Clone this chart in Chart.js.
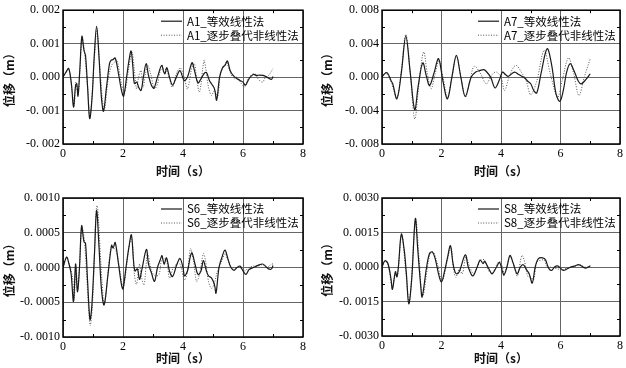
<!DOCTYPE html>
<html>
<head>
<meta charset="utf-8">
<script src="https://cdn.jsdelivr.net/npm/chart.js@4.4.1/dist/chart.umd.min.js"></script>
<style>
  body { margin: 0; background: #fff; width: 626px; height: 368px; overflow: hidden; position: relative; }
  canvas { position: absolute; }
</style>
</head>
<body>
<canvas id="pA1" width="313" height="184" style="left:0;top:0"></canvas>
<canvas id="pA7" width="313" height="184" style="left:313px;top:0"></canvas>
<canvas id="pS6" width="313" height="184" style="left:0;top:184px"></canvas>
<canvas id="pS8" width="313" height="184" style="left:313px;top:184px"></canvas>
<script>
// displacement values in mm (converted to m when the datasets are built)
const a1Equivalent = [[0,0],[0.1,0.15],[0.19,0.26],[0.28,-0.2],[0.35,-0.9],[0.42,-0.25],[0.46,-0.2],[0.5,-0.57],[0.56,0.2],[0.63,1.22],[0.7,0.8],[0.75,0.65],[0.82,-0.3],[0.89,-1.24],[0.97,-0.6],[1.04,0.6],[1.12,1.52],[1.2,0.6],[1.28,-0.6],[1.35,-1.02],[1.45,-0.3],[1.55,0.4],[1.6,0.5],[1.66,0.52],[1.74,0.57],[1.85,0.1],[1.95,-0.4],[2.02,-0.57],[2.12,0.0],[2.2,0.5],[2.27,0.78],[2.33,0.3],[2.38,-0.19],[2.46,-0.15],[2.52,-0.3],[2.6,-0.4],[2.68,0.0],[2.77,0.4],[2.85,0.05],[2.95,-0.25],[3.03,-0.33],[3.15,0.0],[3.29,0.35],[3.36,0.15],[3.4,0.1],[3.46,0.28],[3.55,0.0],[3.65,-0.24],[3.78,0.0],[3.9,0.19],[4.04,-0.1],[4.15,0.0],[4.3,0.43],[4.38,0.2],[4.5,-0.17],[4.6,-0.05],[4.7,0.1],[4.78,0.14],[4.88,-0.1],[4.95,-0.2],[5.05,-0.35],[5.12,-0.69],[5.22,0.0],[5.32,0.29],[5.4,0.35],[5.48,0.48],[5.57,0.2],[5.67,0.05],[5.8,-0.05],[5.9,-0.1],[6.0,-0.15],[6.08,-0.24],[6.2,-0.05],[6.34,0.08],[6.45,0.05],[6.55,0.06],[6.67,0.05],[6.8,0.0],[6.95,-0.07],[7.0,0.02]];
const a1StepIter = [[0,0],[0.1,0.15],[0.19,0.25],[0.3,-0.4],[0.37,-0.85],[0.43,-0.15],[0.5,-0.55],[0.56,0.2],[0.64,1.18],[0.72,0.7],[0.82,-0.3],[0.9,-1.2],[1.05,0.6],[1.13,1.45],[1.22,0.4],[1.37,-1.0],[1.5,-0.1],[1.62,0.35],[1.72,0.45],[1.8,0.5],[1.95,-0.2],[2.05,-0.45],[2.2,0.3],[2.3,0.75],[2.38,0.2],[2.45,-0.35],[2.52,0.0],[2.6,0.2],[2.67,-0.3],[2.75,0.1],[2.82,0.35],[2.92,0.1],[3.05,-0.35],[3.15,-0.2],[3.25,0.2],[3.35,0.25],[3.45,0.2],[3.55,-0.05],[3.65,-0.3],[3.8,0.15],[3.92,0.27],[4.05,-0.05],[4.15,-0.35],[4.3,0.3],[4.38,0.4],[4.45,0.0],[4.55,-0.45],[4.7,0.5],[4.75,0.3],[4.85,-0.3],[4.95,-0.55],[5.05,-0.4],[5.15,-0.6],[5.25,0.1],[5.35,0.3],[5.45,0.45],[5.55,0.2],[5.7,-0.05],[5.8,0.0],[5.95,-0.2],[6.05,-0.3],[6.15,-0.1],[6.25,0.05],[6.4,0.1],[6.5,-0.05],[6.65,-0.15],[6.75,0.0],[6.85,0.05],[7.0,0.25]];

const a7Equivalent = [[0,0],[0.12,0.5],[0.2,0.4],[0.3,-0.4],[0.36,-0.8],[0.5,-2.6],[0.65,0.5],[0.8,4.9],[0.95,0.5],[1.1,-3.9],[1.22,-1.0],[1.37,1.7],[1.5,0.0],[1.6,-1.0],[1.75,0.5],[1.9,2.2],[2.05,-0.5],[2.2,-2.6],[2.35,0.0],[2.5,2.6],[2.65,0.0],[2.8,-2.3],[3.0,0.0],[3.15,0.6],[3.3,0.8],[3.42,0.9],[3.5,0.7],[3.65,0.0],[3.8,-1.3],[3.95,-0.3],[4.05,0.6],[4.15,0.3],[4.25,0.1],[4.45,0.6],[4.6,0.3],[4.8,-0.1],[4.9,-0.5],[5.0,-0.8],[5.1,-1.6],[5.2,-1.9],[5.35,0.5],[5.55,3.4],[5.7,1.5],[5.85,-2.0],[5.98,-2.9],[6.1,-1.5],[6.2,0.5],[6.32,1.6],[6.45,0.8],[6.6,-0.5],[6.7,-0.8],[6.85,-0.3],[7.0,0.4]];
const a7StepIter = [[0,0],[0.12,0.5],[0.3,-0.5],[0.5,-2.5],[0.65,0.8],[0.8,5.1],[0.95,0.5],[1.1,-5.0],[1.25,-0.5],[1.4,3.0],[1.52,0.5],[1.65,-1.4],[1.78,0.3],[1.92,2.0],[2.05,0.0],[2.2,-2.4],[2.35,0.0],[2.5,2.5],[2.65,0.0],[2.8,-2.4],[2.95,-0.5],[3.1,1.3],[3.3,0.5],[3.5,-0.8],[3.65,0.0],[3.75,0.5],[3.85,0.6],[4.0,0.0],[4.12,-1.6],[4.3,0.3],[4.5,1.4],[4.7,0.5],[4.85,-0.5],[5.0,-2.1],[5.2,-0.5],[5.45,3.2],[5.65,0.5],[5.9,-2.4],[6.05,-0.5],[6.27,2.3],[6.45,0.3],[6.62,-2.2],[6.8,0.0],[7.0,2.2]];

const s6Equivalent = [[0,0],[0.12,0.15],[0.2,0.05],[0.27,-0.09],[0.35,-0.49],[0.42,0.05],[0.48,-0.35],[0.55,0.0],[0.62,0.6],[0.7,0.37],[0.75,0.35],[0.82,-0.2],[0.9,-0.75],[0.96,-0.56],[1.05,0.2],[1.12,0.82],[1.2,0.3],[1.28,-0.3],[1.37,-0.54],[1.5,-0.1],[1.62,0.32],[1.67,0.28],[1.74,0.36],[1.85,0.05],[1.95,-0.25],[2.0,-0.31],[2.1,0.0],[2.2,0.3],[2.28,0.47],[2.35,0.1],[2.4,-0.05],[2.48,-0.02],[2.55,-0.17],[2.62,-0.05],[2.78,0.26],[2.85,0.05],[2.95,-0.08],[3.05,-0.2],[3.15,0.0],[3.25,0.12],[3.3,0.17],[3.37,0.05],[3.45,0.14],[3.55,-0.05],[3.65,-0.13],[3.8,0.05],[3.9,0.13],[4.0,0.0],[4.05,-0.12],[4.15,-0.05],[4.25,0.17],[4.3,0.21],[4.4,0.05],[4.5,-0.1],[4.6,-0.05],[4.68,0.1],[4.78,-0.05],[4.85,-0.12],[4.95,-0.15],[5.05,-0.25],[5.1,-0.37],[5.2,0.0],[5.3,0.15],[5.4,0.25],[5.5,0.12],[5.6,0.0],[5.7,-0.04],[5.8,0.0],[5.9,0.02],[6.0,-0.05],[6.1,-0.1],[6.2,-0.03],[6.35,0.0],[6.5,0.03],[6.65,0.05],[6.75,0.02],[6.85,-0.02],[6.95,-0.02],[7.0,0.03]];
const s6StepIter = [[0,0],[0.12,0.13],[0.3,-0.1],[0.37,-0.47],[0.43,0.0],[0.5,-0.3],[0.63,0.58],[0.72,0.35],[0.9,-0.83],[0.98,-0.55],[1.13,0.89],[1.3,-0.2],[1.38,-0.53],[1.6,0.3],[1.7,0.28],[1.8,0.2],[1.95,-0.2],[2.02,-0.28],[2.22,0.35],[2.3,0.4],[2.38,-0.1],[2.45,-0.24],[2.55,0.05],[2.6,-0.1],[2.7,-0.25],[2.82,0.2],[2.95,-0.05],[3.08,-0.12],[3.2,-0.1],[3.3,0.12],[3.45,0.1],[3.55,-0.15],[3.68,0.0],[3.8,0.05],[3.9,0.05],[4.05,-0.18],[4.15,-0.05],[4.25,0.27],[4.35,0.1],[4.45,-0.2],[4.55,-0.1],[4.68,0.2],[4.75,0.1],[4.85,-0.2],[4.95,-0.3],[5.05,-0.22],[5.15,-0.05],[5.3,0.1],[5.4,0.2],[5.5,0.1],[5.6,0.0],[5.75,0.0],[5.9,0.0],[6.05,-0.05],[6.2,0.0],[6.35,0.02],[6.5,0.02],[6.65,0.04],[6.8,0.0],[6.95,0.05],[7.0,0.05]];

const s8Equivalent = [[0,0],[0.1,0.27],[0.2,0.15],[0.3,-0.5],[0.35,-0.97],[0.45,-0.2],[0.5,-0.43],[0.55,0.0],[0.65,1.43],[0.75,0.7],[0.82,-0.3],[0.9,-1.6],[1.0,-0.5],[1.12,2.1],[1.2,0.8],[1.3,-0.8],[1.35,-1.3],[1.5,0.0],[1.6,0.6],[1.7,0.65],[1.8,0.3],[1.9,-0.3],[2.0,-0.65],[2.1,-0.2],[2.2,0.4],[2.3,0.93],[2.38,0.2],[2.45,-0.2],[2.52,-0.3],[2.6,-0.2],[2.8,0.53],[2.9,0.0],[3.05,-0.39],[3.2,0.0],[3.3,0.3],[3.4,0.15],[3.45,0.25],[3.6,-0.1],[3.7,-0.3],[3.85,0.0],[3.95,0.2],[4.05,-0.2],[4.1,-0.35],[4.2,0.0],[4.3,0.5],[4.4,0.2],[4.5,-0.2],[4.55,-0.3],[4.65,0.0],[4.75,0.1],[4.85,-0.1],[4.95,-0.3],[5.05,-0.7],[5.15,0.0],[5.25,0.35],[5.4,0.4],[5.5,0.3],[5.6,-0.05],[5.7,-0.15],[5.8,0.0],[5.9,0.05],[6.0,-0.05],[6.1,-0.15],[6.2,-0.1],[6.35,0.0],[6.5,0.05],[6.6,0.1],[6.7,0.05],[6.85,-0.05],[7.0,0.05]];
const s8StepIter = [[0,0],[0.1,0.25],[0.2,0.1],[0.35,-0.9],[0.45,-0.3],[0.52,-0.4],[0.66,1.4],[0.8,-0.2],[0.92,-1.55],[1.13,2.05],[1.25,0.3],[1.37,-1.25],[1.6,0.5],[1.72,0.65],[1.85,0.2],[2.02,-0.6],[2.2,0.3],[2.32,0.85],[2.4,0.0],[2.48,-0.45],[2.6,-0.1],[2.7,-0.3],[2.82,0.45],[2.95,0.0],[3.08,-0.3],[3.2,0.0],[3.32,0.3],[3.45,0.3],[3.6,-0.2],[3.72,-0.25],[3.9,0.2],[4.0,0.2],[4.12,-0.3],[4.25,0.3],[4.33,0.45],[4.45,0.0],[4.55,-0.4],[4.7,0.5],[4.78,0.3],[4.9,-0.4],[5.0,-0.45],[5.1,-0.55],[5.2,0.2],[5.35,0.3],[5.45,0.3],[5.55,0.0],[5.65,0.0],[5.8,-0.05],[5.95,-0.1],[6.05,-0.15],[6.2,-0.05],[6.35,0.0],[6.5,0.05],[6.65,0.1],[6.8,0.0],[6.95,0.0],[7.0,0.05]];

const xTicks = [0, 2, 4, 6, 8];
const xMinor = [1, 3, 5, 7];
const a1Ticks = [-0.002, -0.001, 0, 0.001, 0.002];
const a1Labels = ["-0. 002", "-0. 001", "0. 000", "0. 001", "0. 002"];
const a7Ticks = [-0.008, -0.004, 0, 0.004, 0.008];
const a7Labels = ["-0. 008", "-0. 004", "0. 000", "0. 004", "0. 008"];
const s6Ticks = [-0.001, -0.0005, 0, 0.0005, 0.001];
const s6Labels = ["-0. 0010", "-0. 0005", "0. 0000", "0. 0005", "0. 0010"];
const s8Ticks = [-0.003, -0.0015, 0, 0.0015, 0.003];
const s8Labels = ["-0. 0030", "-0. 0015", "0. 0000", "0. 0015", "0. 0030"];

const numFont = "'Liberation Serif', 'Noto Sans CJK SC', serif";
const cjkFont = "'Noto Sans CJK SC', sans-serif";

const toPoints = (arr) => arr.map(p => ({ x: p[0], y: p[1] / 1000 }));

// draws the box, inner minor ticks and the legend inside the plot
const framePlugin = {
  id: "frame",
  afterDatasetsDraw(chart) {
    const { ctx, chartArea: a, scales } = chart;
    const yt = chart.options.plugins.frame.ticks;
    ctx.save();
    ctx.strokeStyle = "#000";
    ctx.lineWidth = 1;
    ctx.beginPath();
    xMinor.forEach(v => {
      const x = Math.round(scales.x.getPixelForValue(v)) + 0.5;
      ctx.moveTo(x, a.bottom); ctx.lineTo(x, a.bottom - 3);
      ctx.moveTo(x, a.top); ctx.lineTo(x, a.top + 3);
    });
    for (let i = 0; i < yt.length - 1; i++) {
      const y = Math.round(scales.y.getPixelForValue((yt[i] + yt[i + 1]) / 2)) + 0.5;
      ctx.moveTo(a.left, y); ctx.lineTo(a.left + 3, y);
      ctx.moveTo(a.right, y); ctx.lineTo(a.right - 3, y);
    }
    ctx.stroke();
    ctx.lineWidth = 1.5;
    ctx.strokeRect(a.left, a.top, a.right - a.left, a.bottom - a.top);

    chart.data.datasets.forEach((ds, i) => {
      const y = a.top + 11 + i * 14;
      ctx.strokeStyle = ds.borderColor;
      ctx.lineWidth = ds.borderWidth;
      ctx.setLineDash(ds.borderDash || []);
      ctx.beginPath();
      ctx.moveTo(a.right - 142, y); ctx.lineTo(a.right - 121, y);
      ctx.stroke();
      ctx.setLineDash([]);
      ctx.fillStyle = "#000";
      ctx.font = "11.5px " + cjkFont;
      ctx.textBaseline = "middle";
      ctx.fillText(ds.label, a.right - 116, y);
    });
    ctx.restore();
  }
};

function makePanel(id, name, eq, step, yTicks, yLabels, box) {
  return new Chart(document.getElementById(id), {
    type: "line",
    data: {
      datasets: [
        { label: name + "_等效线性法", data: toPoints(eq), borderColor: "#1a1a1a", borderWidth: 1.2 },
        { label: name + "_逐步叠代非线性法", data: toPoints(step), borderColor: "#555", borderWidth: 1, borderDash: [1, 1.6] }
      ]
    },
    options: {
      responsive: false,
      animation: false,
      layout: { autoPadding: false, padding: { left: 0, top: box.top, right: box.right, bottom: 0 } },
      elements: { point: { radius: 0 }, line: { tension: 0.35 } },
      plugins: { legend: { display: false }, tooltip: { enabled: false }, frame: { ticks: yTicks } },
      scales: {
        x: {
          type: "linear", min: 0, max: 8,
          afterBuildTicks: s => { s.ticks = xTicks.map(v => ({ value: v })); },
          afterFit: s => { s.height = box.xh; },
          ticks: { padding: 3, color: "#000", font: { family: numFont, size: 12 }, maxRotation: 0 },
          grid: { color: "#666", drawTicks: false },
          border: { display: false },
          title: { display: true, text: "时间（s）", color: "#111", font: { family: cjkFont, size: 12, weight: "bold" }, padding: { top: 1, bottom: box.tb } }
        },
        y: {
          min: yTicks[0], max: yTicks[yTicks.length - 1],
          afterBuildTicks: s => { s.ticks = yTicks.map(v => ({ value: v })); },
          afterFit: s => { s.width = box.left; },
          ticks: { padding: 3, color: "#000", font: { family: numFont, size: 12 }, callback: (v, i) => yLabels[i] },
          grid: { color: "#666", drawTicks: false },
          border: { display: false },
          title: { display: true, text: "位移（m）", color: "#111", font: { family: cjkFont, size: 12, weight: "bold" }, padding: { top: box.yt, bottom: 0 } }
        }
      }
    },
    plugins: [framePlugin]
  });
}

makePanel("pA1", "A1", a1Equivalent, a1StepIter, a1Ticks, a1Labels, { left: 63, top: 5, right: 10, xh: 40, tb: 5, yt: 2 });
makePanel("pA7", "A7", a7Equivalent, a7StepIter, a7Ticks, a7Labels, { left: 69, top: 5, right: 3, xh: 40, tb: 5, yt: 7 });
makePanel("pS6", "S6", s6Equivalent, s6StepIter, s6Ticks, s6Labels, { left: 63, top: 14, right: 10, xh: 31, tb: 2, yt: 2 });
makePanel("pS8", "S8", s8Equivalent, s8StepIter, s8Ticks, s8Labels, { left: 69, top: 14, right: 3, xh: 32, tb: 2, yt: 7 });
</script>
</body>
</html>
